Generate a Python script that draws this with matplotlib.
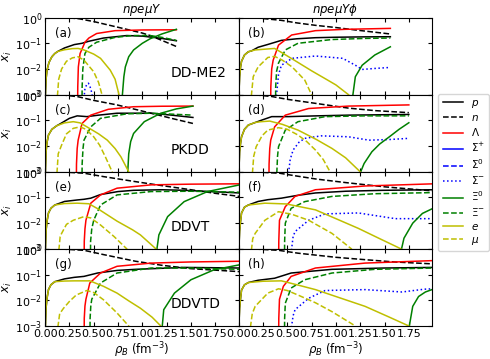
import matplotlib
matplotlib.use("Agg")
import matplotlib.pyplot as plt
from matplotlib.lines import Line2D

# ---- data: (rho_B, x_i) pairs ----
# (a) DD-ME2, npeμY
a_p = [(0, 1e-4), (0.003, 1e-3), (0.01, 0.004), (0.02, 0.009), (0.04, 0.018), (0.07, 0.03), (0.1, 0.04),
       (0.13, 0.048), (0.2, 0.066), (0.3, 0.089), (0.38, 0.1), (0.45, 0.12), (0.6, 0.16), (0.84, 0.2),
       (1.0, 0.19), (1.2, 0.155), (1.35, 0.125)]
a_n = [(0, 1.0), (0.25, 0.97), (0.35, 0.9), (0.5, 0.7), (0.75, 0.42), (1.0, 0.25), (1.08, 0.2),
       (1.2, 0.13), (1.35, 0.075)]
a_L = [(0.333, 1e-4), (0.336, 2e-3), (0.342, 0.012), (0.36, 0.04), (0.41, 0.11), (0.45, 0.16),
       (0.53, 0.24), (0.72, 0.31), (1.0, 0.33), (1.35, 0.335)]
a_Sm = [(0.395, 5e-4), (0.41, 0.0017), (0.43, 0.0026), (0.445, 0.0028), (0.46, 0.0022), (0.48, 0.0012),
        (0.495, 5e-4)]
a_X0 = [(0.79, 1e-4), (0.795, 1e-3), (0.81, 0.005), (0.825, 0.012), (0.86, 0.03), (0.91, 0.055),
        (1.0, 0.1), (1.08, 0.15), (1.2, 0.23), (1.35, 0.35)]
a_Xm = [(0.378, 1e-4), (0.381, 2e-3), (0.388, 0.01), (0.41, 0.04), (0.45, 0.07), (0.53, 0.11),
        (0.72, 0.17), (0.9, 0.2), (1.08, 0.2), (1.2, 0.17), (1.35, 0.13)]
a_e = [(0, 1e-4), (0.003, 1e-3), (0.01, 0.004), (0.02, 0.009), (0.04, 0.018), (0.07, 0.03), (0.1, 0.04),
       (0.13, 0.048), (0.2, 0.056), (0.28, 0.062), (0.34, 0.063), (0.4, 0.055), (0.5, 0.038),
       (0.57, 0.026), (0.67, 0.009), (0.72, 0.004), (0.76, 1e-3), (0.78, 3e-4)]
a_mu = [(0.125, 1e-4), (0.128, 1e-3), (0.14, 0.004), (0.17, 0.01), (0.22, 0.02), (0.28, 0.027),
        (0.34, 0.03), (0.4, 0.022), (0.5, 0.0078), (0.55, 0.003), (0.585, 1e-3), (0.6, 3e-4)]

# (b) DD-ME2, npeμYφ
b_p = [(0, 1e-4), (0.003, 1e-3), (0.01, 0.005), (0.02, 0.012), (0.03, 0.02), (0.06, 0.035), (0.1, 0.047),
       (0.13, 0.05), (0.2, 0.07), (0.3, 0.09), (0.34, 0.1), (0.44, 0.13), (0.6, 0.15), (0.79, 0.165),
       (1.0, 0.172), (1.3, 0.178), (1.56, 0.18)]
b_n = [(0, 1.0), (0.2, 0.96), (0.44, 0.78), (0.6, 0.62), (0.79, 0.5), (1.0, 0.41), (1.2, 0.33),
       (1.4, 0.27), (1.56, 0.23)]
b_L = [(0.328, 1e-4), (0.331, 2e-3), (0.34, 0.01), (0.355, 0.022), (0.41, 0.085), (0.545, 0.21),
       (0.79, 0.31), (1.1, 0.35), (1.56, 0.38)]
b_Sm = [(0.385, 1e-4), (0.39, 1e-3), (0.41, 0.006), (0.44, 0.014), (0.55, 0.026), (0.79, 0.032),
        (1.07, 0.026), (1.2, 0.014), (1.27, 0.0096), (1.4, 0.0105), (1.56, 0.0115)]
b_X0 = [(1.17, 1e-4), (1.175, 1e-3), (1.2, 0.005), (1.27, 0.014), (1.4, 0.035), (1.56, 0.073)]
b_Xm = [(0.378, 1e-4), (0.381, 2e-3), (0.39, 0.008), (0.41, 0.017), (0.48, 0.055), (0.61, 0.1),
        (0.96, 0.14), (1.3, 0.155), (1.56, 0.16)]
b_e = [(0, 1e-4), (0.003, 1e-3), (0.01, 0.005), (0.02, 0.012), (0.03, 0.02), (0.06, 0.035), (0.1, 0.047),
       (0.17, 0.055), (0.27, 0.059), (0.37, 0.063), (0.45, 0.042), (0.61, 0.018), (0.75, 0.0085),
       (0.89, 0.0042), (1.0, 0.0024), (1.13, 1e-3), (1.2, 5e-4)]
b_mu = [(0.128, 1e-4), (0.132, 1e-3), (0.15, 0.005), (0.2, 0.012), (0.3, 0.028), (0.37, 0.031),
        (0.45, 0.022), (0.55, 0.012), (0.68, 0.0037), (0.75, 1e-3), (0.77, 5e-4)]

# (c) PKDD, npeμY
c_p = [(0, 1e-4), (0.003, 1e-3), (0.01, 0.006), (0.02, 0.014), (0.035, 0.027), (0.07, 0.045),
       (0.12, 0.062), (0.14, 0.068), (0.25, 0.12), (0.33, 0.15), (0.43, 0.14), (0.55, 0.16),
       (0.74, 0.19), (1.09, 0.19), (1.3, 0.16), (1.52, 0.13)]
c_n = [(0, 1.0), (0.2, 0.96), (0.34, 0.83), (0.5, 0.6), (0.74, 0.4), (1.09, 0.19), (1.3, 0.12),
       (1.52, 0.076)]
c_L = [(0.32, 1e-4), (0.323, 2e-3), (0.33, 0.008), (0.34, 0.017), (0.38, 0.076), (0.47, 0.16),
       (0.65, 0.27), (0.91, 0.34), (1.2, 0.355), (1.52, 0.36)]
c_Sm = []
c_X0 = [(0.845, 1e-4), (0.85, 1e-3), (0.86, 0.005), (0.88, 0.015), (0.91, 0.031), (1.02, 0.089),
        (1.19, 0.19), (1.35, 0.28), (1.52, 0.36)]
c_Xm = [(0.378, 1e-4), (0.381, 2e-3), (0.39, 0.008), (0.40, 0.017), (0.47, 0.056), (0.57, 0.12),
        (0.84, 0.18), (1.09, 0.19), (1.3, 0.175), (1.52, 0.16)]
c_e = [(0, 1e-4), (0.003, 1e-3), (0.01, 0.006), (0.02, 0.014), (0.035, 0.027), (0.07, 0.045),
       (0.12, 0.062), (0.2, 0.08), (0.29, 0.089), (0.36, 0.08), (0.43, 0.056), (0.55, 0.03),
       (0.64, 0.017), (0.72, 0.008), (0.78, 0.0038), (0.86, 1e-3), (0.88, 5e-4)]
c_mu = [(0.12, 1e-4), (0.123, 1e-3), (0.135, 0.005), (0.17, 0.011), (0.22, 0.03), (0.29, 0.049),
        (0.36, 0.056), (0.42, 0.045), (0.5, 0.023), (0.56, 0.011), (0.62, 0.0038), (0.69, 1e-3),
        (0.7, 5e-4)]

# (d) PKDD, npeμYφ
d_p = [(0, 1e-4), (0.003, 1e-3), (0.01, 0.006), (0.02, 0.013), (0.03, 0.023), (0.06, 0.045),
       (0.1, 0.066), (0.14, 0.075), (0.23, 0.1), (0.34, 0.14), (0.51, 0.14), (0.8, 0.15),
       (1.13, 0.16), (1.75, 0.17)]
d_n = [(0, 1.0), (0.2, 0.96), (0.34, 0.85), (0.5, 0.66), (0.79, 0.46), (1.13, 0.3), (1.4, 0.24),
       (1.75, 0.2)]
d_L = [(0.31, 1e-4), (0.313, 2e-3), (0.32, 0.008), (0.33, 0.017), (0.37, 0.056), (0.48, 0.16),
       (0.72, 0.29), (1.13, 0.36), (1.75, 0.40)]
d_Sm = [(0.51, 1e-4), (0.515, 1e-3), (0.53, 0.003), (0.56, 0.007), (0.62, 0.014), (0.68, 0.02),
        (0.85, 0.025), (1.13, 0.023), (1.34, 0.017), (1.55, 0.018), (1.75, 0.02)]
d_X0 = [(1.25, 1e-4), (1.255, 1e-3), (1.29, 0.0021), (1.37, 0.006), (1.45, 0.012), (1.55, 0.023),
        (1.65, 0.045), (1.75, 0.081)]
d_Xm = [(0.39, 1e-4), (0.393, 1e-3), (0.40, 0.004), (0.41, 0.0094), (0.48, 0.042), (0.61, 0.089),
        (0.89, 0.14), (1.3, 0.15), (1.75, 0.15)]
d_e = [(0, 1e-4), (0.003, 1e-3), (0.01, 0.006), (0.02, 0.013), (0.03, 0.023), (0.06, 0.045),
       (0.1, 0.066), (0.17, 0.083), (0.23, 0.089), (0.32, 0.094), (0.45, 0.07), (0.61, 0.042),
       (0.8, 0.018), (0.96, 0.0081), (1.1, 0.0035), (1.25, 1e-3), (1.28, 5e-4)]
d_mu = [(0.14, 1e-4), (0.143, 1e-3), (0.155, 0.004), (0.18, 0.0094), (0.24, 0.025), (0.30, 0.042),
        (0.41, 0.052), (0.5, 0.045), (0.61, 0.027), (0.7, 0.015), (0.79, 0.007), (0.87, 0.003),
        (0.94, 1e-3), (0.96, 5e-4)]

# (e) DDVT, npeμY
e_p = [(0, 1e-4), (0.003, 1e-3), (0.01, 0.005), (0.02, 0.012), (0.035, 0.025), (0.06, 0.038),
       (0.1, 0.051), (0.2, 0.07), (0.33, 0.08), (0.40, 0.085), (0.47, 0.094), (0.57, 0.13),
       (0.75, 0.17), (0.91, 0.19), (1.2, 0.2), (1.43, 0.19), (1.7, 0.17), (2.0, 0.15)]
e_n = [(0, 1.0), (0.2, 0.97), (0.4, 0.88), (0.6, 0.65), (0.9, 0.43), (1.2, 0.29), (1.5, 0.2),
       (1.75, 0.145), (2.0, 0.11)]
e_L = [(0.40, 1e-4), (0.403, 2e-3), (0.41, 0.006), (0.42, 0.013), (0.47, 0.06), (0.57, 0.126),
       (0.74, 0.23), (1.09, 0.31), (1.5, 0.33), (2.0, 0.34)]
e_Sm = []
e_X0 = [(1.145, 1e-4), (1.15, 1e-3), (1.17, 0.0035), (1.26, 0.018), (1.43, 0.069), (1.67, 0.17),
        (2.0, 0.31)]
e_Xm = [(0.465, 1e-4), (0.468, 2e-3), (0.48, 0.006), (0.50, 0.013), (0.57, 0.051), (0.74, 0.126),
        (1.09, 0.17), (1.5, 0.175), (2.0, 0.16)]
e_e = [(0, 1e-4), (0.003, 1e-3), (0.01, 0.005), (0.02, 0.012), (0.035, 0.025), (0.06, 0.038),
       (0.1, 0.051), (0.2, 0.058), (0.33, 0.06), (0.45, 0.057), (0.55, 0.035), (0.74, 0.012),
       (0.9, 0.0055), (0.98, 0.0035), (1.14, 1e-3), (1.16, 5e-4)]
e_mu = [(0.14, 1e-4), (0.143, 1e-3), (0.155, 0.003), (0.17, 0.004), (0.22, 0.009), (0.29, 0.013),
        (0.40, 0.018), (0.47, 0.016), (0.57, 0.0085), (0.71, 0.003), (0.84, 1e-3), (0.86, 5e-4)]

# (f) DDVT, npeμYφ
f_p = [(0, 1e-4), (0.003, 1e-3), (0.01, 0.005), (0.02, 0.012), (0.03, 0.025), (0.06, 0.042),
       (0.1, 0.051), (0.2, 0.07), (0.3, 0.082), (0.44, 0.094), (0.6, 0.12), (0.79, 0.15),
       (1.1, 0.175), (1.48, 0.19), (2.0, 0.2)]
f_n = [(0, 1.0), (0.2, 0.97), (0.42, 0.88), (0.6, 0.68), (0.8, 0.52), (1.1, 0.38), (1.5, 0.26),
       (2.0, 0.18)]
f_L = [(0.41, 1e-4), (0.413, 2e-3), (0.42, 0.013), (0.48, 0.044), (0.58, 0.11), (0.79, 0.2),
       (1.3, 0.28), (2.0, 0.34)]
f_Sm = [(0.54, 1e-4), (0.545, 1e-3), (0.56, 0.003), (0.58, 0.0047), (0.72, 0.013), (0.89, 0.023),
        (1.23, 0.025), (1.61, 0.015), (2.0, 0.015)]
f_X0 = [(1.67, 1e-4), (1.675, 1e-3), (1.70, 0.0026), (1.79, 0.01), (1.89, 0.024), (2.0, 0.038)]
f_Xm = [(0.47, 1e-4), (0.473, 2e-3), (0.48, 0.01), (0.54, 0.038), (0.68, 0.069), (0.96, 0.11),
        (1.4, 0.14), (2.0, 0.155)]
f_e = [(0, 1e-4), (0.003, 1e-3), (0.01, 0.005), (0.02, 0.012), (0.03, 0.025), (0.06, 0.042),
       (0.1, 0.051), (0.27, 0.06), (0.49, 0.056), (0.79, 0.033), (1.0, 0.015), (1.23, 0.0063),
       (1.45, 0.0025), (1.67, 1e-3), (1.7, 5e-4)]
f_mu = [(0.13, 1e-4), (0.133, 1e-3), (0.145, 0.0025), (0.17, 0.004), (0.27, 0.013), (0.41, 0.028),
        (0.55, 0.022), (0.72, 0.013), (0.96, 0.004), (1.16, 1e-3), (1.18, 5e-4)]

# (g) DDVTD, npeμY
g_p = [(0, 1e-4), (0.003, 1e-3), (0.01, 0.005), (0.02, 0.012), (0.035, 0.026), (0.06, 0.04),
       (0.1, 0.053), (0.2, 0.068), (0.3, 0.078), (0.40, 0.085), (0.54, 0.115), (0.74, 0.145),
       (0.93, 0.16), (1.43, 0.19), (2.0, 0.18)]
g_n = [(0, 1.0), (0.2, 0.97), (0.4, 0.88), (0.6, 0.6), (0.93, 0.33), (1.2, 0.23), (1.5, 0.17),
       (2.0, 0.13)]
g_L = [(0.40, 1e-4), (0.403, 2e-3), (0.41, 0.006), (0.42, 0.011), (0.46, 0.047), (0.57, 0.115),
       (0.74, 0.21), (1.09, 0.28), (1.5, 0.31), (2.0, 0.33)]
g_Sm = []
g_X0 = [(1.20, 1e-4), (1.205, 1e-3), (1.22, 0.0043), (1.33, 0.019), (1.5, 0.063), (1.74, 0.155),
        (2.0, 0.24)]
g_Xm = [(0.46, 1e-4), (0.463, 2e-3), (0.47, 0.006), (0.48, 0.011), (0.57, 0.047), (0.74, 0.115),
        (1.09, 0.18), (1.5, 0.18), (2.0, 0.16)]
g_e = [(0, 1e-4), (0.003, 1e-3), (0.01, 0.005), (0.02, 0.012), (0.035, 0.026), (0.06, 0.04),
       (0.1, 0.053), (0.2, 0.056), (0.3, 0.057), (0.46, 0.057), (0.6, 0.035), (0.74, 0.019),
       (0.86, 0.0095), (0.98, 0.0049), (1.1, 0.0022), (1.19, 1e-3), (1.21, 5e-4)]
g_mu = [(0.13, 1e-4), (0.133, 1e-3), (0.15, 0.003), (0.19, 0.0049), (0.25, 0.009), (0.32, 0.016),
        (0.43, 0.024), (0.5, 0.02), (0.6, 0.0105), (0.74, 0.0032), (0.86, 1e-3), (0.88, 5e-4)]

# (h) DDVTD, npeμYφ
h_p = [(0, 1e-4), (0.003, 1e-3), (0.01, 0.005), (0.02, 0.012), (0.03, 0.025), (0.06, 0.04),
       (0.1, 0.049), (0.2, 0.06), (0.37, 0.072), (0.54, 0.115), (0.96, 0.16), (1.5, 0.18),
       (2.0, 0.19)]
h_n = [(0, 1.0), (0.2, 0.97), (0.41, 0.88), (0.61, 0.68), (1.0, 0.47), (1.3, 0.38), (1.6, 0.31),
       (2.0, 0.26)]
h_L = [(0.41, 1e-4), (0.413, 2e-3), (0.42, 0.011), (0.46, 0.035), (0.54, 0.085), (0.79, 0.18),
       (1.3, 0.28), (2.0, 0.35)]
h_Sm = [(0.54, 1e-4), (0.545, 1e-3), (0.56, 0.0025), (0.58, 0.0043), (0.72, 0.012), (0.89, 0.024),
        (1.3, 0.026), (1.68, 0.021), (1.91, 0.027), (2.0, 0.028)]
h_X0 = [(1.75, 1e-4), (1.755, 1e-3), (1.79, 0.0058), (1.85, 0.014), (1.92, 0.021), (2.0, 0.027)]
h_Xm = [(0.47, 1e-4), (0.473, 2e-3), (0.48, 0.0077), (0.54, 0.03), (0.68, 0.063), (0.96, 0.115),
        (1.4, 0.16), (2.0, 0.18)]
h_e = [(0, 1e-4), (0.003, 1e-3), (0.01, 0.005), (0.02, 0.012), (0.03, 0.025), (0.06, 0.04),
       (0.1, 0.049), (0.25, 0.055), (0.44, 0.057), (0.6, 0.04), (0.79, 0.026), (1.0, 0.014),
       (1.3, 0.0058), (1.55, 0.0022), (1.75, 1e-3), (1.77, 5e-4)]
h_mu = [(0.12, 1e-4), (0.123, 1e-3), (0.14, 0.003), (0.17, 0.0058), (0.3, 0.019), (0.41, 0.028),
        (0.5, 0.024), (0.61, 0.016), (0.79, 0.008), (0.96, 0.0036), (1.2, 1e-3), (1.22, 5e-4)]

panel_tags = ['(a)', '(b)', '(c)', '(d)', '(e)', '(f)', '(g)', '(h)']
models = ['DD-ME2', 'PKDD', 'DDVT', 'DDVTD']
col_titles = [r'$npe\mu Y$', r'$npe\mu Y\phi$']

species = ['p', 'n', 'L', 'Sp', 'S0', 'Sm', 'X0', 'Xm', 'e', 'mu']
labels = [r'$p$', r'$n$', r'$\Lambda$', r'$\Sigma^{+}$', r'$\Sigma^{0}$', r'$\Sigma^{-}$',
          r'$\Xi^{0}$', r'$\Xi^{-}$', r'$e$', r'$\mu$']
styles = ['k-', 'k--', 'r-', 'b-', 'b--', 'b:', 'g-', 'g--', 'y-', 'y--']

curves = {
    '(a)': {'p': a_p, 'n': a_n, 'L': a_L, 'Sm': a_Sm, 'X0': a_X0, 'Xm': a_Xm, 'e': a_e, 'mu': a_mu},
    '(b)': {'p': b_p, 'n': b_n, 'L': b_L, 'Sm': b_Sm, 'X0': b_X0, 'Xm': b_Xm, 'e': b_e, 'mu': b_mu},
    '(c)': {'p': c_p, 'n': c_n, 'L': c_L, 'Sm': c_Sm, 'X0': c_X0, 'Xm': c_Xm, 'e': c_e, 'mu': c_mu},
    '(d)': {'p': d_p, 'n': d_n, 'L': d_L, 'Sm': d_Sm, 'X0': d_X0, 'Xm': d_Xm, 'e': d_e, 'mu': d_mu},
    '(e)': {'p': e_p, 'n': e_n, 'L': e_L, 'Sm': e_Sm, 'X0': e_X0, 'Xm': e_Xm, 'e': e_e, 'mu': e_mu},
    '(f)': {'p': f_p, 'n': f_n, 'L': f_L, 'Sm': f_Sm, 'X0': f_X0, 'Xm': f_Xm, 'e': f_e, 'mu': f_mu},
    '(g)': {'p': g_p, 'n': g_n, 'L': g_L, 'Sm': g_Sm, 'X0': g_X0, 'Xm': g_Xm, 'e': g_e, 'mu': g_mu},
    '(h)': {'p': h_p, 'n': h_n, 'L': h_L, 'Sm': h_Sm, 'X0': h_X0, 'Xm': h_Xm, 'e': h_e, 'mu': h_mu},
}

fig, axes = plt.subplots(4, 2, figsize=(4.9, 3.59), dpi=100, sharex=True, sharey=True)
fig.subplots_adjust(left=0.092, right=0.882, top=0.951, bottom=0.092, hspace=0, wspace=0)

lw = 1.1
for k, ax in enumerate(axes.flat):
    tag = panel_tags[k]
    for sp, st in zip(species, styles):
        pts = curves[tag].get(sp, [])
        if not pts:
            continue
        xs, ys = zip(*pts)
        ax.plot(xs, ys, st, lw=lw)
    ax.set_yscale('log')
    ax.set_ylim(1e-3, 1)
    ax.set_xlim(0, 1.99)
    ax.set_xticks([0, 0.25, 0.5, 0.75, 1.0, 1.25, 1.5, 1.75])
    ax.minorticks_off()
    ax.tick_params(direction='in', top=True, right=True, labelsize=8, length=3, pad=2)
    ax.text(0.05, 0.8, tag, transform=ax.transAxes, fontsize=8.5, va='center')
    if k % 2 == 0:
        ax.set_ylabel(r'$x_i$', fontsize=8.5, labelpad=1)
        ax.text(0.65, 0.28, models[k // 2], transform=ax.transAxes, fontsize=10, va='center')

for j in range(2):
    axes[0, j].set_title(col_titles[j], fontsize=8.5, pad=3)
    axes[3, j].set_xlabel(r'$\rho_B$ (fm$^{-3}$)', fontsize=8.5, labelpad=1)
    axes[3, j].xaxis.set_major_formatter(matplotlib.ticker.FormatStrFormatter('%.2f'))

handles = [Line2D([], [], color=st[0], linestyle=st[1:], lw=lw) for st in styles]
fig.legend(handles, labels, loc='center left', bbox_to_anchor=(0.884, 0.52), fontsize=7.5,
           handlelength=2.0, borderpad=0.4, labelspacing=0.3, handletextpad=0.7)

fig.savefig('out.png', dpi=100)
